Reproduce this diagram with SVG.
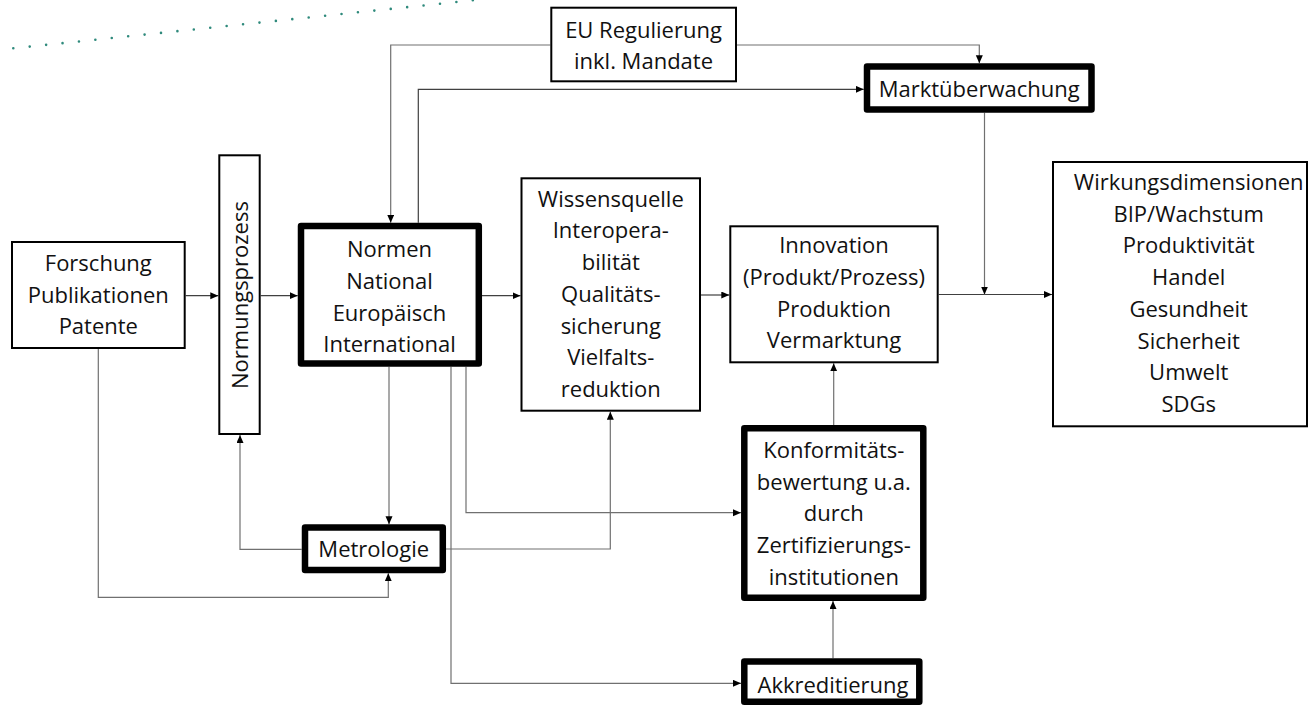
<svg xmlns="http://www.w3.org/2000/svg" width="1309" height="706" viewBox="0 0 1309 706">
<style>
.box{fill:#fff;stroke:#000;stroke-width:2}
.thick{fill:#fff;stroke:#000;stroke-width:6.5;stroke-linejoin:round}
.t{font-family:"Open Sans","Noto Sans",sans-serif;font-size:22px;fill:#111;text-anchor:middle}
.c{fill:none;stroke:#707070;stroke-width:1.2}
.dk{stroke:#404040}
</style>
<defs>
<marker id="a" markerUnits="userSpaceOnUse" markerWidth="9" markerHeight="8" refX="8" refY="3.5" orient="auto">
<path d="M0,0 L8,3.5 L0,7 z" fill="#000"/>
</marker>
</defs>
<rect width="1309" height="706" fill="#fff"/>
<line x1="13.3" y1="48.3" x2="494" y2="-1.9" stroke="#2f8a7c" stroke-width="2.6" stroke-linecap="round" stroke-dasharray="0 16.5"/>
<g id="connectors">
<path class="c dk" d="M185.7,295.7 H218.3" marker-end="url(#a)"/>
<path class="c dk" d="M260.7,295.7 H297.7" marker-end="url(#a)"/>
<path class="c dk" d="M482,295.7 H520.5" marker-end="url(#a)"/>
<path class="c dk" d="M701,295 H729.3" marker-end="url(#a)"/>
<path class="c dk" d="M938.7,294.5 H1052" marker-end="url(#a)"/>
<path class="c" d="M984.5,112.7 V294.5" marker-end="url(#a)"/>
<path class="c" d="M550.3,45 H390.7 V222.7" marker-end="url(#a)"/>
<path class="c" d="M737,45 H979.3 V63.3" marker-end="url(#a)"/>
<path class="c dk" d="M418.3,222.7 V89.3 H863.7" marker-end="url(#a)"/>
<path class="c" d="M389,366.7 V524.3" marker-end="url(#a)"/>
<path class="c" d="M301.7,549.3 H240 V435" marker-end="url(#a)"/>
<path class="c" d="M98.3,349 V597.3 H388.3 V573.3" marker-end="url(#a)"/>
<path class="c" d="M446,549 H610.3 V411.7" marker-end="url(#a)"/>
<path class="c" d="M466,366.7 V512.7 H741" marker-end="url(#a)"/>
<path class="c" d="M451,366.7 V683.3 H741" marker-end="url(#a)"/>
<path class="c" d="M833,658.3 V601" marker-end="url(#a)"/>
<path class="c" d="M833.7,425 V363.3" marker-end="url(#a)"/>
</g>
<g id="forschung">
<rect class="box" x="12" y="242" width="172.7" height="106"/>
<text class="t" x="98.3" y="271">Forschung</text>
<text class="t" x="98.3" y="302.7">Publikationen</text>
<text class="t" x="98.3" y="334">Patente</text>
</g>
<g id="normungsprozess">
<rect class="box" x="219.3" y="155.3" width="40.4" height="278.7"/>
<text class="t" transform="translate(248.3,295) rotate(-90)">Normungsprozess</text>
</g>
<g id="normen">
<rect class="thick" x="301" y="226" width="177.8" height="137.5"/>
<text class="t" x="389.5" y="257">Normen</text>
<text class="t" x="389.5" y="289">National</text>
<text class="t" x="389.5" y="320.5">Europäisch</text>
<text class="t" x="389.5" y="352">International</text>
</g>
<g id="wissensquelle">
<rect class="box" x="521.5" y="178.3" width="178.5" height="232.4"/>
<text class="t" x="610.8" y="206.7">Wissensquelle</text>
<text class="t" x="610.8" y="238.4">Interopera-</text>
<text class="t" x="610.8" y="270.1">bilität</text>
<text class="t" x="610.8" y="301.8">Qualitäts-</text>
<text class="t" x="610.8" y="333.5">sicherung</text>
<text class="t" x="610.8" y="365.2">Vielfalts-</text>
<text class="t" x="610.8" y="396.9">reduktion</text>
</g>
<g id="innovation">
<rect class="box" x="730.3" y="226.3" width="207.4" height="136"/>
<text class="t" x="834" y="253.3">Innovation</text>
<text class="t" x="834" y="285">(Produkt/Prozess)</text>
<text class="t" x="834" y="316.7">Produktion</text>
<text class="t" x="834" y="348.4">Vermarktung</text>
</g>
<g id="wirkungsdimensionen">
<rect class="box" x="1053" y="162" width="254" height="264.3"/>
<text class="t" x="1188.7" y="190">Wirkungsdimensionen</text>
<text class="t" x="1188.7" y="221.7">BIP/Wachstum</text>
<text class="t" x="1188.7" y="253.4">Produktivität</text>
<text class="t" x="1188.7" y="285.1">Handel</text>
<text class="t" x="1188.7" y="316.8">Gesundheit</text>
<text class="t" x="1188.7" y="348.5">Sicherheit</text>
<text class="t" x="1188.7" y="380.2">Umwelt</text>
<text class="t" x="1188.7" y="411.9">SDGs</text>
</g>
<g id="eu-regulierung">
<rect class="box" x="551.3" y="7.7" width="184.7" height="73.6"/>
<text class="t" x="643.5" y="38">EU Regulierung</text>
<text class="t" x="643.5" y="69">inkl. Mandate</text>
</g>
<g id="marktueberwachung">
<rect class="thick" x="867" y="66.5" width="224.5" height="43"/>
<text class="t" x="979.2" y="96.7">Marktüberwachung</text>
</g>
<g id="metrologie">
<rect class="thick" x="305" y="527.5" width="137.8" height="42.5"/>
<text class="t" x="373.8" y="557.3">Metrologie</text>
</g>
<g id="konformitaetsbewertung">
<rect class="thick" x="744.3" y="428.3" width="179" height="169.5"/>
<text class="t" x="833.8" y="458">Konformitäts-</text>
<text class="t" x="833.8" y="489.7">bewertung u.a.</text>
<text class="t" x="833.8" y="521.4">durch</text>
<text class="t" x="833.8" y="553.1">Zertifizierungs-</text>
<text class="t" x="833.8" y="584.8">institutionen</text>
</g>
<g id="akkreditierung">
<rect class="thick" x="744.3" y="661.5" width="175" height="40.3"/>
<text class="t" x="833" y="693.3">Akkreditierung</text>
</g>
</svg>
